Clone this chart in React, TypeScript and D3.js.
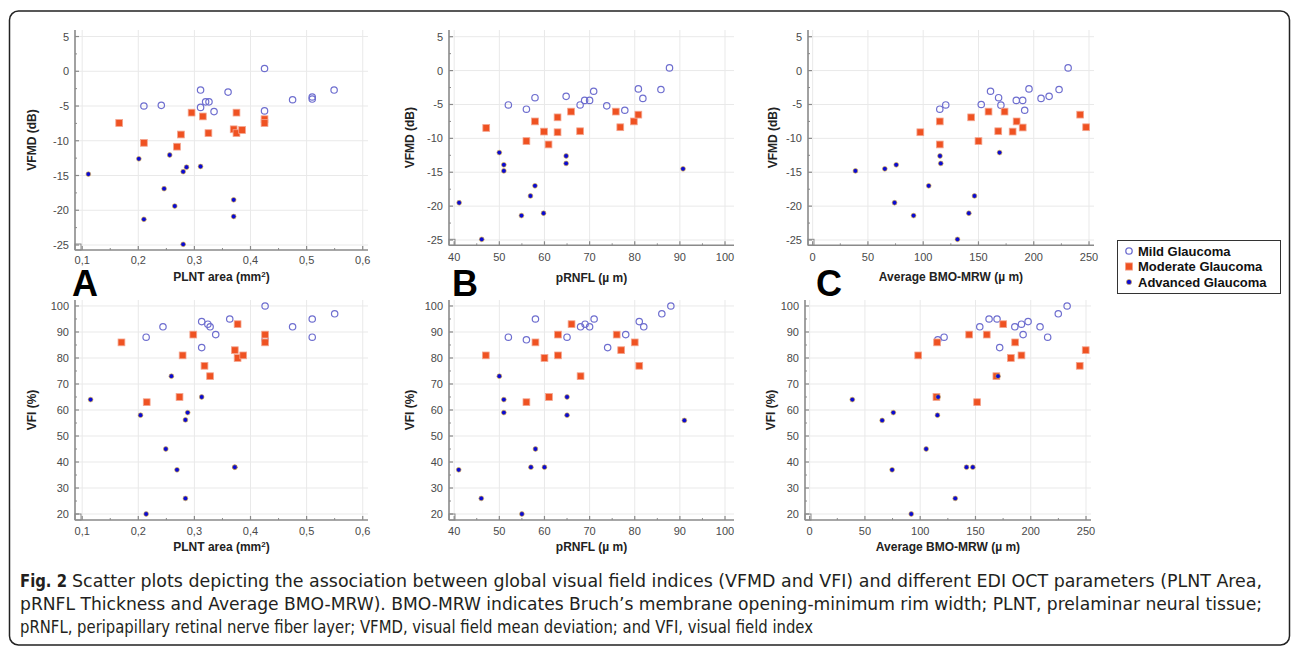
import React from "react";
import * as d3 from "d3";

// ---------- DATA ----------
const seriesNames = ["Mild Glaucoma", "Moderate Glaucoma", "Advanced Glaucoma"];

const plntTicks = [0.1, 0.2, 0.3, 0.4, 0.5, 0.6];
const rnflTicks = [40, 50, 60, 70, 80, 90, 100];
const bmoTicks = [0, 50, 100, 150, 200, 250];
const vfmdTicks = [5, 0, -5, -10, -15, -20, -25];
const vfiTicks = [20, 30, 40, 50, 60, 70, 80, 90, 100];

// Panel A: PLNT area vs VFMD
const plntVfmdMild: [number, number][] = [
  [0.425, 0.4], [0.311, -2.7], [0.36, -3.0], [0.21, -5.0], [0.241, -4.9], [0.311, -5.2],
  [0.32, -4.4], [0.326, -4.4], [0.335, -5.8], [0.425, -5.7], [0.475, -4.1], [0.51, -3.7],
  [0.51, -4.0], [0.549, -2.7],
];
const plntVfmdModerate: [number, number][] = [
  [0.166, -7.44], [0.21, -10.3], [0.269, -10.85], [0.276, -9.1], [0.295, -5.95], [0.315, -6.5],
  [0.325, -8.9], [0.37, -8.35], [0.375, -8.9], [0.375, -5.95], [0.385, -8.45], [0.425, -6.9],
  [0.425, -7.45],
];
const plntVfmdAdvanced: [number, number][] = [
  [0.111, -14.8], [0.201, -12.6], [0.21, -21.3], [0.246, -16.9], [0.256, -12.05], [0.265, -19.4],
  [0.28, -14.45], [0.286, -13.8], [0.28, -24.9], [0.311, -13.7], [0.37, -18.5], [0.37, -20.9],
];

// Panel B: pRNFL vs VFMD
const rnflVfmdMild: [number, number][] = [
  [52, -5.07], [56, -5.7], [57.9, -4.0], [64.8, -3.8], [67.9, -5.07], [68.9, -4.4], [70, -4.4],
  [70.9, -3.05], [73.8, -5.2], [77.8, -5.85], [80.8, -2.7], [81.8, -4.1], [85.8, -2.8], [87.7, 0.4],
];
const rnflVfmdModerate: [number, number][] = [
  [47.1, -8.46], [56, -10.4], [57.9, -7.5], [59.9, -9.0], [60.9, -10.9], [62.9, -6.9], [62.9, -9.1],
  [65.9, -6.05], [67.9, -8.95], [75.8, -6.05], [76.8, -8.36], [79.8, -7.5], [80.8, -6.5],
];
const rnflVfmdAdvanced: [number, number][] = [
  [41.1, -19.5], [46.1, -24.9], [50, -12.1], [51, -13.9], [51, -14.8], [54.9, -21.4],
  [56.9, -18.5], [57.9, -17.0], [59.8, -21.05], [64.8, -12.6], [64.8, -13.7], [90.7, -14.5],
];

// Panel C: Average BMO-MRW vs VFMD
const bmoVfmdMild: [number, number][] = [
  [115, -5.7], [120.4, -5.07], [152.5, -5.0], [160.9, -3.05], [168.2, -4.0], [170.3, -5.1],
  [184.2, -4.4], [190, -4.4], [191.8, -5.85], [195.7, -2.7], [206.6, -4.1], [213.9, -3.8],
  [222.9, -2.8], [231.1, 0.4],
];
const bmoVfmdModerate: [number, number][] = [
  [97.4, -9.1], [115, -7.5], [115, -10.9], [143.4, -6.9], [150, -10.4], [159.1, -6.05],
  [167.9, -8.95], [173.6, -6.05], [180.9, -9.0], [184.5, -7.5], [190, -8.4], [242, -6.5],
  [247.4, -8.36],
];
const bmoVfmdAdvanced: [number, number][] = [
  [38.7, -14.8], [65.3, -14.5], [75.6, -13.9], [74.1, -19.5], [91.3, -21.4], [105, -17],
  [115.2, -12.6], [115.9, -13.7], [131, -24.9], [141.3, -21.05], [146.4, -18.5], [169.1, -12.1],
];

// Panel D: PLNT area vs VFI
const plntVfiMild: [number, number][] = [
  [0.214, 88], [0.244, 92], [0.313, 94], [0.313, 84], [0.324, 93], [0.328, 92], [0.338, 89],
  [0.363, 95], [0.426, 100], [0.426, 87], [0.475, 92], [0.51, 95], [0.51, 88], [0.55, 97],
];
const plntVfiModerate: [number, number][] = [
  [0.17, 86], [0.215, 63], [0.2735, 65], [0.279, 81], [0.298, 89], [0.318, 77], [0.328, 73],
  [0.377, 93], [0.372, 83], [0.377, 80], [0.387, 81], [0.426, 89], [0.426, 86],
];
const plntVfiAdvanced: [number, number][] = [
  [0.115, 64], [0.204, 58], [0.214, 20], [0.249, 45], [0.259, 73], [0.269, 37], [0.284, 56.2],
  [0.288, 59], [0.284, 26], [0.313, 65], [0.372, 38], [0.372, 38],
];

// Panel E: pRNFL vs VFI
const rnflVfiMild: [number, number][] = [
  [52, 88], [56, 87], [58, 95], [65, 88], [68, 92], [69, 93], [70, 92], [71, 95], [74, 84],
  [78, 89], [81, 94], [82, 92], [86, 97], [88, 100],
];
const rnflVfiModerate: [number, number][] = [
  [47, 81], [56, 63], [58, 86], [60, 80], [61, 65], [63, 89], [63, 81], [66, 93], [68, 73],
  [76, 89], [77, 83], [80, 86], [81, 77],
];
const rnflVfiAdvanced: [number, number][] = [
  [41, 37], [46, 26], [50, 73], [51, 64], [51, 59], [55, 20], [57, 38], [58, 45], [60, 38],
  [65, 65], [65, 58], [91, 56],
];

// Panel F: Average BMO-MRW vs VFI
const bmoVfiMild: [number, number][] = [
  [115.9, 87], [121.6, 88], [153.9, 92], [162.3, 95], [169.5, 95], [171.9, 84], [185.6, 92],
  [191.6, 93], [193.1, 89], [197.6, 94], [208.4, 92], [215.3, 88], [224.9, 97], [232.9, 100],
];
const bmoVfiModerate: [number, number][] = [
  [98.2, 81], [115.3, 86], [114.7, 65], [144.3, 89], [151.5, 63], [160.2, 89], [168.9, 73],
  [175.1, 93], [182, 80], [185.9, 86], [191.6, 81], [244.3, 77], [249.7, 83],
];
const bmoVfiAdvanced: [number, number][] = [
  [38.6, 64], [65.6, 56], [75.7, 59], [74.6, 37], [91.9, 20], [105.4, 45], [116.2, 65],
  [115.6, 58], [131.7, 26], [141.9, 38], [147.6, 38], [170.4, 73],
];

const captionBold = "Fig. 2";
const captionLines = [
  "Scatter plots depicting the association between global visual field indices (VFMD and VFI) and different EDI OCT parameters (PLNT Area,",
  "pRNFL Thickness and Average BMO-MRW). BMO-MRW indicates Bruch\u2019s membrane opening-minimum rim width; PLNT, prelaminar neural tissue;",
  "pRNFL, peripapillary retinal nerve fiber layer; VFMD, visual field mean deviation; and VFI, visual field index",
];

// ---------- STYLE ----------
const FONT = "'Liberation Sans', Arial, Helvetica, sans-serif";
const MILD_COLOR = "#6e6ecf";
const MOD_FILL = "#ef5222";
const MOD_STROKE = "#f4a58f";
const ADV_FILL = "#0b0bd2";
const ADV_STROKE = "#e2b43a";
const AXIS_COLOR = "#8a8a8a";
const GRID_COLOR = "#e9e9e9";

type PanelCfg = {
  left: number; right: number; top: number; bottom: number;
  xDomain: [number, number]; yDomain: [number, number];
  xTicks: number[]; yTicks: number[];
  xFmt: (v: number) => string;
  xTitle: React.ReactNode; yTitle: string;
  tickLabelY: number; titleY: number; yTitleX: number;
  mild: [number, number][]; moderate: [number, number][]; advanced: [number, number][];
  letter?: string; letterX?: number;
};

function midpoints(t: number[]) {
  const s = [...t].sort((a, b) => a - b);
  const out: number[] = [];
  for (let i = 0; i < s.length - 1; i++) out.push((s[i] + s[i + 1]) / 2);
  return out;
}

function Panel({ c }: { c: PanelCfg }) {
  const x = d3.scaleLinear().domain(c.xDomain).range([c.left, c.right]);
  const y = d3.scaleLinear().domain(c.yDomain).range([c.bottom, c.top]);
  const xMinor = midpoints(c.xTicks);
  const yMinor = midpoints(c.yTicks);
  return (
    <g>
      {c.xTicks.map((t) => (
        <line key={"gx" + t} x1={x(t)} x2={x(t)} y1={c.top} y2={c.bottom} stroke={GRID_COLOR} strokeWidth={1} />
      ))}
      {c.yTicks.map((t) => (
        <line key={"gy" + t} x1={c.left} x2={c.right} y1={y(t)} y2={y(t)} stroke={GRID_COLOR} strokeWidth={1} />
      ))}
      {/* axes */}
      <line x1={c.left} x2={c.left} y1={c.top} y2={c.bottom} stroke={AXIS_COLOR} strokeWidth={1.6} />
      <line x1={c.left} x2={c.right} y1={c.bottom} y2={c.bottom} stroke={AXIS_COLOR} strokeWidth={1.6} />
      <rect x={c.left} y={c.bottom - 6} width={6} height={6} fill="none" stroke={AXIS_COLOR} strokeWidth={1} />
      {c.xTicks.map((t) => (
        <line key={"tx" + t} x1={x(t)} x2={x(t)} y1={c.bottom} y2={c.bottom - 4} stroke={AXIS_COLOR} strokeWidth={1.2} />
      ))}
      {xMinor.map((t) => (
        <line key={"mx" + t} x1={x(t)} x2={x(t)} y1={c.bottom} y2={c.bottom - 2} stroke={AXIS_COLOR} strokeWidth={1} />
      ))}
      {c.yTicks.map((t) => (
        <line key={"ty" + t} x1={c.left} x2={c.left + 4} y1={y(t)} y2={y(t)} stroke={AXIS_COLOR} strokeWidth={1.2} />
      ))}
      {yMinor.map((t) => (
        <line key={"my" + t} x1={c.left} x2={c.left + 2} y1={y(t)} y2={y(t)} stroke={AXIS_COLOR} strokeWidth={1} />
      ))}
      {/* tick labels */}
      {c.xTicks.map((t) => (
        <text key={"lx" + t} x={x(t)} y={c.tickLabelY} textAnchor="middle" fontSize={11} fill="#4a4a4a" fontFamily={FONT}>
          {c.xFmt(t)}
        </text>
      ))}
      {c.yTicks.map((t) => (
        <text key={"ly" + t} x={c.left - 6} y={y(t) + 4} textAnchor="end" fontSize={11} fill="#4a4a4a" fontFamily={FONT}>
          {String(t)}
        </text>
      ))}
      {/* titles */}
      <text x={(c.left + c.right) / 2} y={c.titleY} textAnchor="middle" fontSize={12} fontWeight="bold" fill="#222" fontFamily={FONT}>
        {c.xTitle}
      </text>
      <text
        transform={`translate(${c.yTitleX},${(c.top + c.bottom) / 2}) rotate(-90)`}
        textAnchor="middle" fontSize={12} fontWeight="bold" fill="#222" fontFamily={FONT}
      >
        {c.yTitle}
      </text>
      {/* points */}
      {c.mild.map((d, i) => (
        <circle key={"a" + i} cx={x(d[0])} cy={y(d[1])} r={3.2} fill="none" stroke={MILD_COLOR} strokeWidth={1.2} />
      ))}
      {c.moderate.map((d, i) => (
        <rect key={"b" + i} x={x(d[0]) - 3.4} y={y(d[1]) - 3.4} width={6.8} height={6.8} fill={MOD_FILL} stroke={MOD_STROKE} strokeWidth={0.8} />
      ))}
      {c.advanced.map((d, i) => (
        <circle key={"c" + i} cx={x(d[0])} cy={y(d[1])} r={2.4} fill={ADV_FILL} stroke={ADV_STROKE} strokeWidth={0.6} />
      ))}
      {c.letter ? (
        <text x={c.letterX} y={296} fontSize={36} fontWeight="bold" fill="#000" fontFamily={FONT}>
          {c.letter}
        </text>
      ) : null}
    </g>
  );
}

const commaFmt = (v: number) => d3.format(".1f")(v).replace(".", ",");
const intFmt = (v: number) => String(v);

export default function App() {
  const plntTitle = (
    <>
      PLNT area (mm<tspan dy={-4} fontSize={8}>2</tspan>
      <tspan dy={4}>)</tspan>
    </>
  );
  const rnflTitle = "pRNFL (\u00b5 m)";
  const bmoTitle = "Average BMO-MRW (\u00b5 m)";

  const panels: PanelCfg[] = [
    {
      left: 75, right: 368, top: 30, bottom: 250, xDomain: [0.0872, 0.6094], yDomain: [-25.72, 5.94],
      xTicks: plntTicks, yTicks: vfmdTicks, xFmt: commaFmt, xTitle: plntTitle, yTitle: "VFMD (dB)",
      tickLabelY: 264, titleY: 281, yTitleX: 36,
      mild: plntVfmdMild, moderate: plntVfmdModerate, advanced: plntVfmdAdvanced, letter: "A", letterX: 72,
    },
    {
      left: 449, right: 734, top: 30, bottom: 245.3, xDomain: [38.85, 101.99], yDomain: [-25.78, 5.99],
      xTicks: rnflTicks, yTicks: vfmdTicks, xFmt: intFmt, xTitle: rnflTitle, yTitle: "VFMD (dB)",
      tickLabelY: 261, titleY: 282, yTitleX: 414,
      mild: rnflVfmdMild, moderate: rnflVfmdModerate, advanced: rnflVfmdAdvanced, letter: "B", letterX: 452,
    },
    {
      left: 808, right: 1094, top: 30, bottom: 245.3, xDomain: [-4.2, 254.5], yDomain: [-25.78, 5.99],
      xTicks: bmoTicks, yTicks: vfmdTicks, xFmt: intFmt, xTitle: bmoTitle, yTitle: "VFMD (dB)",
      tickLabelY: 261, titleY: 281, yTitleX: 777,
      mild: bmoVfmdMild, moderate: bmoVfmdModerate, advanced: bmoVfmdAdvanced, letter: "C", letterX: 816,
    },
    {
      left: 75, right: 368, top: 300, bottom: 520, xDomain: [0.0872, 0.6094], yDomain: [17.7, 102.3],
      xTicks: plntTicks, yTicks: vfiTicks, xFmt: commaFmt, xTitle: plntTitle, yTitle: "VFI (%)",
      tickLabelY: 535, titleY: 551, yTitleX: 36,
      mild: plntVfiMild, moderate: plntVfiModerate, advanced: plntVfiAdvanced,
    },
    {
      left: 449, right: 734, top: 300, bottom: 520, xDomain: [38.85, 101.99], yDomain: [17.7, 102.3],
      xTicks: rnflTicks, yTicks: vfiTicks, xFmt: intFmt, xTitle: rnflTitle, yTitle: "VFI (%)",
      tickLabelY: 535, titleY: 551, yTitleX: 414,
      mild: rnflVfiMild, moderate: rnflVfiModerate, advanced: rnflVfiAdvanced,
    },
    {
      left: 805, right: 1091, top: 300, bottom: 520, xDomain: [-4.2, 254.5], yDomain: [17.7, 102.3],
      xTicks: bmoTicks, yTicks: vfiTicks, xFmt: intFmt, xTitle: bmoTitle, yTitle: "VFI (%)",
      tickLabelY: 535, titleY: 551, yTitleX: 775,
      mild: bmoVfiMild, moderate: bmoVfiModerate, advanced: bmoVfiAdvanced,
    },
  ];

  const legendRowsY = [251, 266.5, 282];

  return (
    <svg
      width={1292}
      height={651}
      viewBox="0 0 1292 651"
      style={{ position: "absolute", left: 0, top: 0, background: "#fff" }}
    >
      <rect x={0} y={0} width={1292} height={651} fill="#fff" />
      <rect x={9.5} y={11} width={1280} height={634} rx={9} fill="none" stroke="#222" strokeWidth={1.5} />
      {panels.map((p, i) => (
        <Panel key={i} c={p} />
      ))}
      {/* legend */}
      <g>
        <rect x={1117.5} y={240.5} width={163} height={53} fill="#fff" stroke="#333" strokeWidth={1} />
        {seriesNames.map((name, i) => {
          const cy = legendRowsY[i];
          const mx = 1129;
          return (
            <g key={name}>
              {i === 0 && <circle cx={mx} cy={cy} r={3.2} fill="none" stroke={MILD_COLOR} strokeWidth={1.3} />}
              {i === 1 && <rect x={mx - 3.6} y={cy - 3.6} width={7.2} height={7.2} fill={MOD_FILL} stroke={MOD_STROKE} strokeWidth={0.8} />}
              {i === 2 && <circle cx={mx} cy={cy} r={2.6} fill={ADV_FILL} stroke={ADV_STROKE} strokeWidth={0.6} />}
              <text x={1138} y={cy + 4.5} fontSize={13} fontWeight="bold" fill="#111" fontFamily={FONT}>
                {name}
              </text>
            </g>
          );
        })}
      </g>
      {/* caption */}
      <g fontFamily="'Liberation Sans Narrow', 'DejaVu Sans Condensed', 'Liberation Sans', sans-serif" fill="#231f20">
        <text x={20} y={587} fontSize={17} fontWeight="bold" textLength={47} lengthAdjust="spacingAndGlyphs">
          {captionBold}
        </text>
        <text x={72} y={587} fontSize={17} textLength={1190} lengthAdjust="spacingAndGlyphs">
          {captionLines[0]}
        </text>
        <text x={20} y={610} fontSize={17} textLength={1242} lengthAdjust="spacingAndGlyphs">
          {captionLines[1]}
        </text>
        <text x={20} y={633} fontSize={17} textLength={793} lengthAdjust="spacingAndGlyphs">
          {captionLines[2]}
        </text>
      </g>
    </svg>
  );
}
